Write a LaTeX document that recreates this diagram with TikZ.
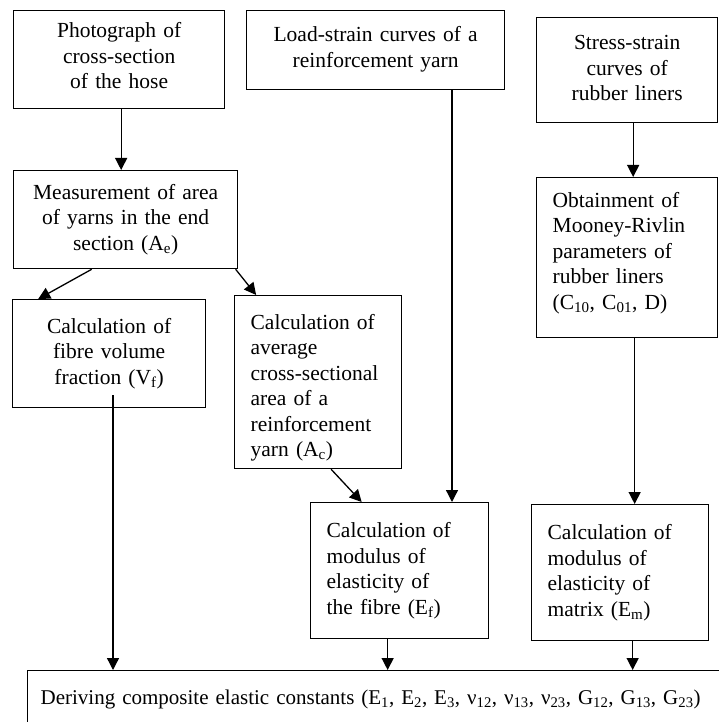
\documentclass[tikz,border=0pt]{standalone}
\usepackage{fontspec}
\setmainfont{Liberation Serif}
\usetikzlibrary{arrows.meta,calc}
\begin{document}
\begin{tikzpicture}[x=1pt,y=-1pt,
  bx/.style={draw, line width=1.3pt, anchor=north west, inner xsep=16pt, inner ysep=0pt,
    font=\fontsize{21.5}{25.5}\selectfont},
  cbx/.style={bx, align=center},
  lbx/.style={bx, align=left},
  arr/.style={line width=1.3pt, -{Triangle[length=12pt,width=12pt]}}]
\useasboundingbox (0,0) rectangle (719,722);
\node[cbx, minimum width=211pt, minimum height=98pt, text width=179pt] (photo) at (13,10)
  {Photograph of\\cross-section\\of the hose\rule[-8pt]{0pt}{8pt}};
\node[cbx, minimum width=258pt, minimum height=79pt, text width=226pt] (load) at (246,10)
  {Load-strain curves of a\\reinforcement yarn\rule[-6pt]{0pt}{6pt}};
\node[cbx, minimum width=181pt, minimum height=105pt, text width=149pt] (stress) at (536,17)
  {Stress-strain\\curves of\\rubber liners\rule[-4pt]{0pt}{4pt}};
\node[cbx, minimum width=224pt, minimum height=98pt, text width=192pt] (meas) at (13,170)
  {Measurement of area\\of yarns in the end\\section (A\textsubscript{e})};
\node[lbx, minimum width=181pt, minimum height=160pt, text width=149pt] (obtain) at (536,177)
  {Obtainment of\\Mooney-Rivlin\\parameters of\\rubber liners\\(C\textsubscript{10}, C\textsubscript{01}, D)\rule[-14pt]{0pt}{14pt}};
\node[cbx, minimum width=193pt, minimum height=108pt, text width=161pt] (vf) at (12,299)
  {Calculation of\\fibre volume\\fraction (V\textsubscript{f})\rule[-4pt]{0pt}{4pt}};
\node[lbx, minimum width=167pt, minimum height=173pt, text width=135pt] (avg) at (234,295)
  {\rule{0pt}{26pt}Calculation of\\average\\cross-sectional\\area of a\\reinforcement\\yarn (A\textsubscript{c})};
\node[lbx, minimum width=178pt, minimum height=136pt, text width=146pt] (fibre) at (310,502)
  {Calculation of\\modulus of\\elasticity of\\the fibre (E\textsubscript{f})};
\node[lbx, minimum width=177pt, minimum height=136pt, text width=145pt] (matrix) at (531,504)
  {Calculation of\\modulus of\\elasticity of\\matrix (E\textsubscript{m})};
\node[lbx, inner xsep=13pt, minimum width=692pt, minimum height=58pt, text width=672pt,
  font=\fontsize{21}{24}\selectfont] (bottom) at (27,670)
  {Deriving composite elastic constants (E\textsubscript{1}, E\textsubscript{2}, E\textsubscript{3}, ν\textsubscript{12}, ν\textsubscript{13}, ν\textsubscript{23}, G\textsubscript{12}, G\textsubscript{13}, G\textsubscript{23})};
% connectors
\coordinate (lx) at (452,0);
\coordinate (vx) at (113,395);
\draw[arr] ([xshift=2pt]photo.south) -- ([xshift=2pt]photo.south |- meas.north);
\draw[arr] ([xshift=-34pt]meas.south) -- ([xshift=-71pt]vf.north);
\draw[arr] ([xshift=110pt]meas.south) -- ([xshift=-62pt]avg.north);
\draw[arr] (load.south -| lx) -- (lx |- fibre.north);
\draw[arr] ([xshift=6pt]stress.south) -- ([xshift=6pt]stress.south |- obtain.north);
\draw[arr] ([xshift=13pt]avg.south) -- ([xshift=-38pt]fibre.north);
\draw[arr] ([xshift=7.5pt]obtain.south) -- ([xshift=7.5pt]obtain.south |- matrix.north);
\draw[arr] (vx) -- (vx |- bottom.north);
\draw[arr] ([xshift=-12pt]fibre.south) -- ([xshift=-12pt]fibre.south |- bottom.north);
\draw[arr] ([xshift=12.5pt]matrix.south) -- ([xshift=12.5pt]matrix.south |- bottom.north);
\end{tikzpicture}
\end{document}
